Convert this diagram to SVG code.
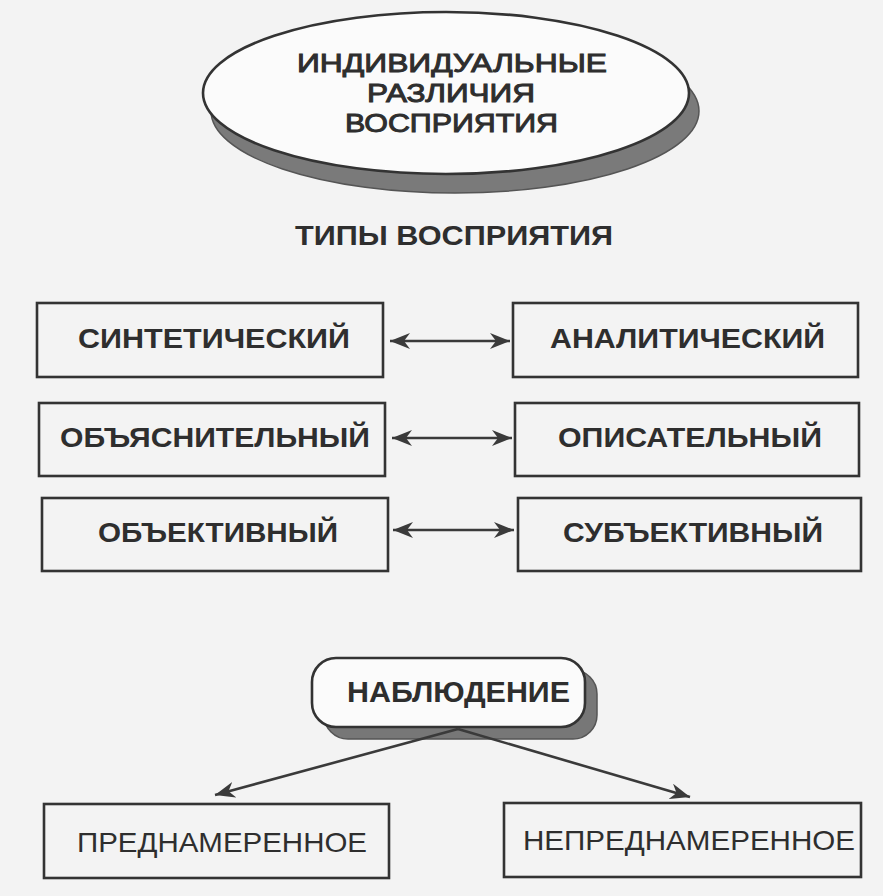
<svg xmlns="http://www.w3.org/2000/svg" width="883" height="896" viewBox="0 0 883 896">
<defs>
<style>
.box{fill:none;stroke:#333;stroke-width:2.6}
.conn{fill:none;stroke:#3a3a3a;stroke-width:2.6}
.t{font-family:"Liberation Sans",Arial,sans-serif;fill:#2e2e2e;text-anchor:middle}
.tb{font-weight:bold}
.lg{font-size:26.5px;stroke:#2e2e2e;stroke-width:1}
.md{font-size:28px}
</style>
<marker id="ah" viewBox="0 0 20 16" refX="20" refY="8" markerWidth="20" markerHeight="16" markerUnits="userSpaceOnUse" orient="auto-start-reverse">
<path d="M0,0 L20,8 L0,16 L6,8 Z" fill="#3a3a3a"/>
</marker>
</defs>
<rect x="0" y="0" width="883" height="896" fill="#f3f3f3"/>

<g id="node-individual">
<ellipse cx="455" cy="111" rx="244" ry="82" fill="#7a7a7a" stroke="#555" stroke-width="1.5"/>
<ellipse cx="446" cy="93" rx="243" ry="81" fill="#fbfbfb" stroke="#333" stroke-width="2.6"/>
<text class="t lg" x="452" y="72" textLength="310" lengthAdjust="spacingAndGlyphs">ИНДИВИДУАЛЬНЫЕ</text>
<text class="t lg" x="451" y="102" textLength="168" lengthAdjust="spacingAndGlyphs">РАЗЛИЧИЯ</text>
<text class="t lg" x="451.5" y="132" textLength="213" lengthAdjust="spacingAndGlyphs">ВОСПРИЯТИЯ</text>
</g>

<g id="title-types">
<text class="t tb" style="font-size:27px" x="454" y="245" textLength="318" lengthAdjust="spacingAndGlyphs">ТИПЫ ВОСПРИЯТИЯ</text>
</g>

<g id="node-synthetic">
<rect class="box" x="37" y="303" width="346" height="74"/>
<text class="t tb md" x="214" y="348" textLength="272" lengthAdjust="spacingAndGlyphs">СИНТЕТИЧЕСКИЙ</text>
</g>
<g id="node-analytic">
<rect class="box" x="513" y="303" width="345" height="74"/>
<text class="t tb md" x="687.5" y="348" textLength="275" lengthAdjust="spacingAndGlyphs">АНАЛИТИЧЕСКИЙ</text>
</g>
<g id="node-explanatory">
<rect class="box" x="39" y="403" width="346" height="73"/>
<text class="t tb md" x="215" y="447" textLength="310" lengthAdjust="spacingAndGlyphs">ОБЪЯСНИТЕЛЬНЫЙ</text>
</g>
<g id="node-descriptive">
<rect class="box" x="515" y="403" width="344" height="73"/>
<text class="t tb md" x="690" y="447" textLength="264" lengthAdjust="spacingAndGlyphs">ОПИСАТЕЛЬНЫЙ</text>
</g>
<g id="node-objective">
<rect class="box" x="42" y="498" width="346" height="73"/>
<text class="t tb md" x="218" y="542" textLength="240" lengthAdjust="spacingAndGlyphs">ОБЪЕКТИВНЫЙ</text>
</g>
<g id="node-subjective">
<rect class="box" x="518" y="498" width="343" height="73"/>
<text class="t tb md" x="693" y="542" textLength="260" lengthAdjust="spacingAndGlyphs">СУБЪЕКТИВНЫЙ</text>
</g>

<g id="node-observation">
<rect x="324" y="670" width="273" height="69" rx="24" ry="24" fill="#777" stroke="#555" stroke-width="1.5"/>
<rect x="312" y="658" width="273" height="69" rx="24" ry="24" fill="#fbfbfb" stroke="#333" stroke-width="2.6"/>
<text class="t tb" style="font-size:29px" x="458.5" y="702" textLength="223" lengthAdjust="spacingAndGlyphs">НАБЛЮДЕНИЕ</text>
</g>

<g id="node-intentional">
<rect class="box" x="44" y="804" width="345" height="74"/>
<text class="t md" x="222" y="852" textLength="290" lengthAdjust="spacingAndGlyphs">ПРЕДНАМЕРЕННОЕ</text>
</g>
<g id="node-unintentional">
<rect class="box" x="504" y="803" width="357" height="74"/>
<text class="t md" x="689" y="850" textLength="332" lengthAdjust="spacingAndGlyphs">НЕПРЕДНАМЕРЕННОЕ</text>
</g>

<g id="connectors">
<line class="conn" x1="390" y1="341" x2="510" y2="341" marker-start="url(#ah)" marker-end="url(#ah)"/>
<line class="conn" x1="392" y1="438" x2="512" y2="438" marker-start="url(#ah)" marker-end="url(#ah)"/>
<line class="conn" x1="393" y1="530" x2="514" y2="530" marker-start="url(#ah)" marker-end="url(#ah)"/>
<line class="conn" x1="458" y1="729" x2="215" y2="795" marker-end="url(#ah)"/>
<line class="conn" x1="458" y1="729" x2="690" y2="797" marker-end="url(#ah)"/>
</g>
</svg>
